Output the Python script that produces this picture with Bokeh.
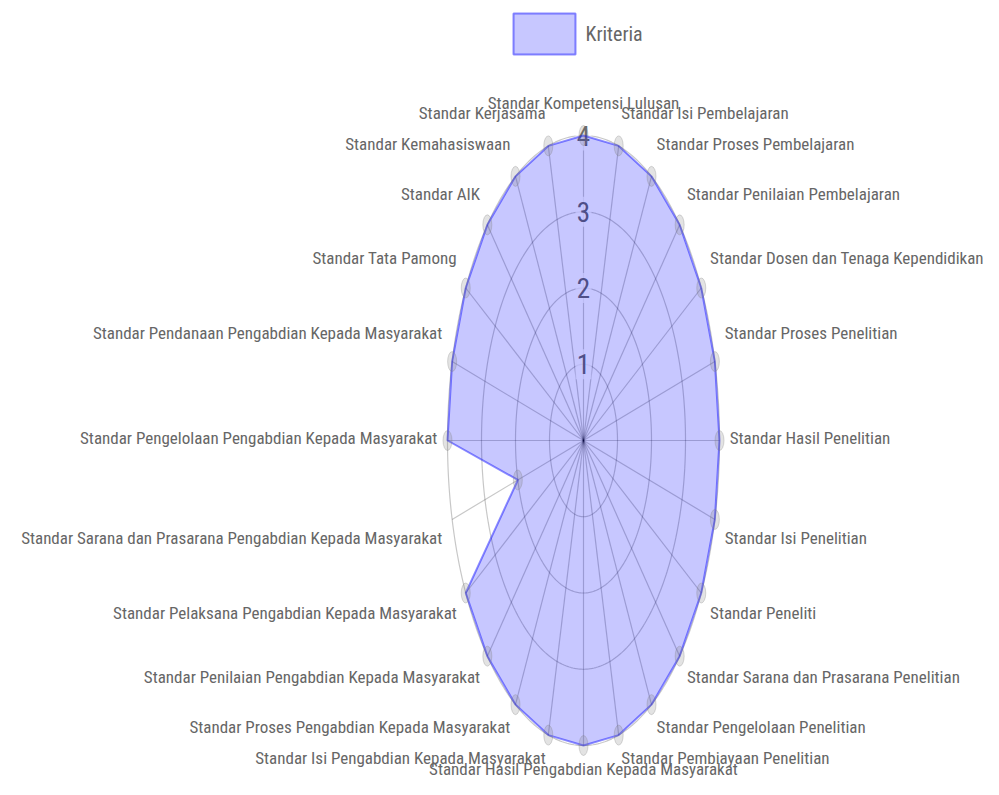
import numpy as np
from bokeh.plotting import figure
from bokeh.models import Range1d
from bokeh.core.properties import value
from bokeh.embed import file_html
from bokeh.resources import INLINE

categories = [
    "Standar Kompetensi Lulusan",
    "Standar Isi Pembelajaran",
    "Standar Proses Pembelajaran",
    "Standar Penilaian Pembelajaran",
    "Standar Dosen dan Tenaga Kependidikan",
    "Standar Proses Penelitian",
    "Standar Hasil Penelitian",
    "Standar Isi Penelitian",
    "Standar Peneliti",
    "Standar Sarana dan Prasarana Penelitian",
    "Standar Pengelolaan Penelitian",
    "Standar Pembiayaan Penelitian",
    "Standar Hasil Pengabdian Kepada Masyarakat",
    "Standar Isi Pengabdian Kepada Masyarakat",
    "Standar Proses Pengabdian Kepada Masyarakat",
    "Standar Penilaian Pengabdian Kepada Masyarakat",
    "Standar Pelaksana Pengabdian Kepada Masyarakat",
    "Standar Sarana dan Prasarana Pengabdian Kepada Masyarakat",
    "Standar Pengelolaan Pengabdian Kepada Masyarakat",
    "Standar Pendanaan Pengabdian Kepada Masyarakat",
    "Standar Tata Pamong",
    "Standar AIK",
    "Standar Kemahasiswaan",
    "Standar Kerjasama",
]
kriteria = [4, 4, 4, 4, 4, 4, 4, 4, 4, 4, 4, 4,
            4, 4, 4, 4, 4, 2, 4, 4, 4, 4, 4, 4]
series_name = "Kriteria"
ticks = [1, 2, 3, 4]
r_max = 4

# ---- layout (screen geometry) ----
W, H = 983, 779
CX, CY = 583, 440          # centre of the radar in frame pixels
SX, SY = 34.0, 76.25       # pixels per value unit (x, y)
FONT = value("Roboto Condensed, DejaVu Sans Condensed, Liberation Sans, sans-serif")
LABEL_COLOR = "#666666"


def px_x(fx):
    return (fx - CX) / SX


def px_y(fy):
    return (CY - fy) / SY


p = figure(width=W, height=H, output_backend="svg", toolbar_location=None,
           x_axis_type=None, y_axis_type=None, min_border=0,
           x_range=Range1d(-CX / SX, (W - CX) / SX),
           y_range=Range1d(-(H - CY) / SY, CY / SY))
p.grid.visible = False
p.outline_line_color = None
p.background_fill_color = "white"

n = len(categories)
theta = np.arange(n) * 2 * np.pi / n

# circular grid lines
t = np.linspace(0, 2 * np.pi, 361)
for r in ticks:
    p.line(r * np.sin(t), r * np.cos(t), line_color="black", line_alpha=0.22, line_width=1.2)

# angle lines
for a in theta:
    p.line([0, r_max * np.sin(a)], [0, r_max * np.cos(a)],
           line_color="black", line_alpha=0.22, line_width=1.2)

# tick labels with backdrop
tick_x = [0.0] * len(ticks)
tick_y = [float(v) for v in ticks]
p.rect(tick_x, tick_y, width=16, height=30, width_units="screen", height_units="screen",
       fill_color="white", fill_alpha=0.75, line_color=None)
p.text(tick_x, tick_y, text=[str(v) for v in ticks], text_font=FONT,
       text_font_size="27px", text_color=LABEL_COLOR, text_align="center",
       text_baseline="middle")

# data polygon
vals = np.array(kriteria, dtype=float)
xs = vals * np.sin(theta)
ys = vals * np.cos(theta)
p.patch(list(xs), list(ys), fill_color="#0000ff", fill_alpha=0.22,
        line_color="#0000ff", line_alpha=0.45, line_width=2)

# points
p.ellipse(list(xs), list(ys), width=9, height=20, width_units="screen", height_units="screen",
          fill_color="gray", fill_alpha=0.22, line_color="gray", line_alpha=0.3, line_width=1)

# point labels (Chart.js-like placement)
r_lab_x = r_max + 0.3
for i, (lab, a) in enumerate(zip(categories, theta)):
    deg = i * 360.0 / n
    if deg in (0.0, 180.0):
        align = "center"
    elif deg < 180:
        align = "left"
    else:
        align = "right"
    c = abs(np.cos(a))
    if deg in (90.0, 270.0):
        off = -3.0                      # screen px, positive = down
    elif deg < 90 or deg > 270:
        off = -(22 + 6 * c) - 5
    else:
        off = (22 + 6 * c) - 5
    lx = r_lab_x * np.sin(a)
    ly = r_max * np.cos(a) - off / SY
    p.text([lx], [ly], text=[lab], text_font=FONT, text_font_size="17px",
           text_color=LABEL_COLOR, text_align=align, text_baseline="middle")

# legend
p.rect([px_x(544)], [px_y(33.5)], width=62, height=41, width_units="screen", height_units="screen",
       fill_color="#0000ff", fill_alpha=0.22, line_color="#0000ff", line_alpha=0.45, line_width=2)
p.text([px_x(585)], [px_y(33)], text=[series_name], text_font=FONT, text_font_size="20px",
       text_color=LABEL_COLOR, text_align="left", text_baseline="middle")

open("out.html", "w").write(file_html(p, INLINE))
